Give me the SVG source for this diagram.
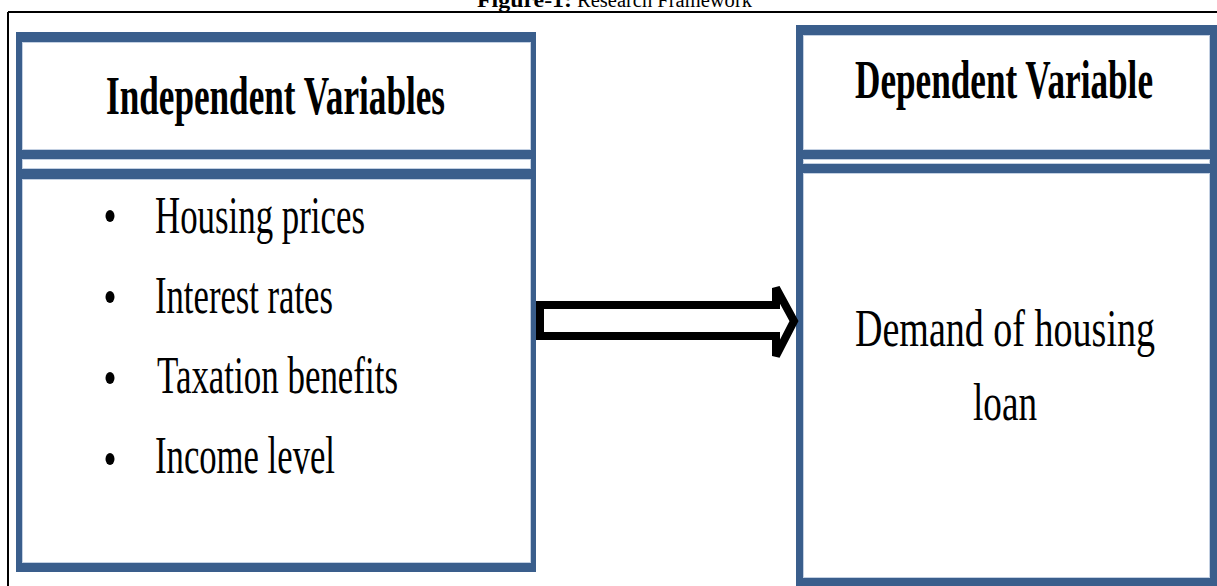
<svg xmlns="http://www.w3.org/2000/svg" width="1217" height="586" viewBox="0 0 1217 586">
  <style>
    .frame { fill: none; stroke: #000; stroke-width: 2; }
    .blue { fill: #3A5E8C; }
    .panel { fill: #fff; stroke: #c3d0e2; stroke-width: 1; }
    .hdr { font-family: "Liberation Serif", "Times New Roman", serif; font-weight: bold; font-size: 54px; fill: #000; }
    .item { font-family: "Liberation Serif", "Times New Roman", serif; font-size: 53px; fill: #000; }
    .title { font-family: "Liberation Serif", "Times New Roman", serif; font-size: 20px; fill: #000; }
    .bullet { fill: #000; }
    .arrow { fill: #fff; stroke: #000; stroke-width: 8; stroke-linejoin: miter; }
  </style>
  <rect width="1217" height="586" fill="#fff"/>

  <g id="title">
    <text class="title" x="477" y="7" font-weight="bold" textLength="95" lengthAdjust="spacingAndGlyphs">Figure-1:</text>
    <text class="title" x="577" y="7" textLength="175" lengthAdjust="spacingAndGlyphs">Research Framework</text>
  </g>

  <g id="frame">
    <path class="frame" d="M8 12 H1217 M8 12 V586"/>
  </g>

  <g id="independent">
    <rect class="blue" x="16" y="32" width="520" height="540"/>
    <rect class="panel" x="22.5" y="42.5" width="508" height="107"/>
    <rect class="panel" x="22.5" y="159.5" width="508" height="9"/>
    <rect class="panel" x="22.5" y="179.5" width="508" height="383"/>
    <text class="hdr" x="106" y="114" textLength="339" lengthAdjust="spacingAndGlyphs">Independent Variables</text>
    <ellipse class="bullet" cx="110" cy="216" rx="4.5" ry="6"/>
    <ellipse class="bullet" cx="110" cy="297" rx="4.5" ry="6"/>
    <ellipse class="bullet" cx="110" cy="378" rx="4.5" ry="6"/>
    <ellipse class="bullet" cx="110" cy="459" rx="4.5" ry="6"/>
    <text class="item" x="155" y="233" textLength="210" lengthAdjust="spacingAndGlyphs">Housing prices</text>
    <text class="item" x="155" y="313" textLength="178" lengthAdjust="spacingAndGlyphs">Interest rates</text>
    <text class="item" x="157" y="393" textLength="241" lengthAdjust="spacingAndGlyphs">Taxation benefits</text>
    <text class="item" x="155" y="473" textLength="180" lengthAdjust="spacingAndGlyphs">Income level</text>
  </g>

  <g id="dependent">
    <rect class="blue" x="796" y="25" width="421" height="561"/>
    <rect class="panel" x="803.5" y="35.5" width="406" height="114"/>
    <rect class="panel" x="803.5" y="159.5" width="406" height="4"/>
    <rect class="panel" x="803.5" y="173.5" width="406" height="404"/>
    <text class="hdr" x="855" y="98" textLength="298" lengthAdjust="spacingAndGlyphs">Dependent Variable</text>
    <text class="item" x="855" y="346" textLength="300" lengthAdjust="spacingAndGlyphs">Demand of housing</text>
    <text class="item" x="973" y="420" textLength="64" lengthAdjust="spacingAndGlyphs">loan</text>
  </g>

  <g id="connectors">
    <polygon class="arrow" points="540,305 776,305 776,288 794,321 776,356 776,336 540,336"/>
  </g>
</svg>
